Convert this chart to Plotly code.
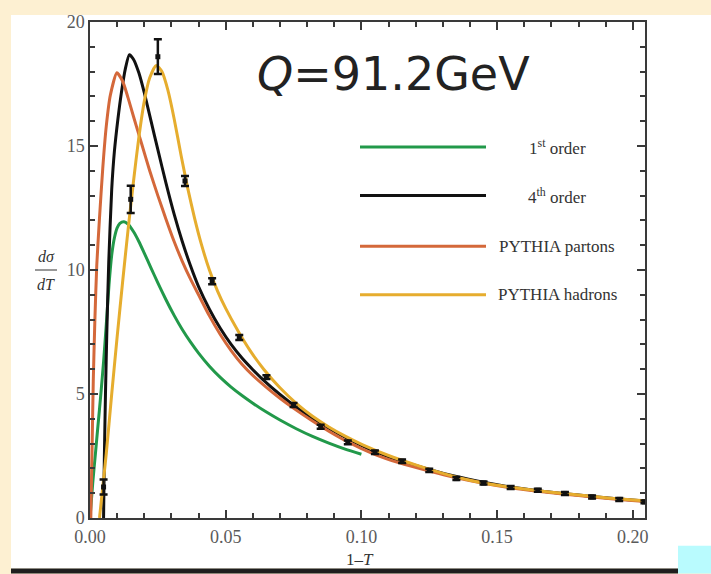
import plotly.graph_objects as go

# ---------------- data ----------------
x_first = [0, 0.001, 0.002, 0.003, 0.004, 0.005, 0.006, 0.007, 0.008, 0.009, 0.010, 0.011, 0.0125,
           0.014, 0.016, 0.018, 0.020, 0.0225, 0.025, 0.028, 0.031, 0.034, 0.037, 0.040, 0.044,
           0.048, 0.052, 0.056, 0.060, 0.065, 0.070, 0.076, 0.082, 0.088, 0.094, 0.100]
y_first = [0, 1.4, 2.6, 3.8, 5.0, 6.3, 7.8, 9.4, 10.6, 11.3, 11.7, 11.88, 11.95,
           11.85, 11.55, 11.15, 10.68, 10.08, 9.48, 8.8, 8.17, 7.6, 7.1, 6.65, 6.12,
           5.67, 5.28, 4.94, 4.63, 4.27, 3.95, 3.6, 3.29, 3.02, 2.78, 2.57]

x_fourth = [0.0050, 0.0053, 0.0057, 0.0062, 0.0069, 0.008, 0.009, 0.0103, 0.0115, 0.013, 0.0145,
            0.016, 0.018, 0.020, 0.0225, 0.025, 0.028, 0.031, 0.034, 0.037, 0.040, 0.044, 0.048,
            0.052, 0.056, 0.060, 0.0637, 0.070, 0.076, 0.082, 0.088, 0.095, 0.1042, 0.114, 0.125,
            0.135, 0.145, 0.155, 0.165, 0.175, 0.185, 0.195, 0.2045]
y_fourth = [0, 2.5, 5.0, 7.5, 10.3, 13.25, 14.8, 16.1, 17.1, 18.1, 18.68,
            18.5, 17.95, 17.15, 16.0, 14.85, 13.5, 12.25, 11.15, 10.18, 9.33, 8.42, 7.65,
            7.0, 6.45, 5.98, 5.58, 4.98, 4.47, 4.02, 3.62, 3.2, 2.72, 2.32, 1.96,
            1.67, 1.44, 1.25, 1.1, 0.98, 0.87, 0.77, 0.69]

x_partons = [0.0003, 0.0008, 0.0012, 0.0018, 0.0025, 0.0035, 0.0047, 0.006, 0.0075, 0.0099, 0.012,
             0.014, 0.016, 0.019, 0.022, 0.025, 0.028, 0.031, 0.034, 0.037, 0.040, 0.044, 0.048,
             0.052, 0.056, 0.060, 0.065, 0.070, 0.076, 0.082, 0.088, 0.095, 0.1042, 0.114, 0.125,
             0.135, 0.145, 0.155, 0.165, 0.175, 0.185, 0.195, 0.2045]
y_partons = [0, 3.0, 5.5, 8.0, 10.2, 12.1, 14.1, 15.8, 17.05, 17.95, 17.62,
             16.95, 16.2, 15.1, 14.0, 13.0, 12.05, 11.15, 10.35, 9.64, 9.0, 8.15, 7.4,
             6.75, 6.2, 5.75, 5.27, 4.83, 4.35, 3.91, 3.5, 3.07, 2.6, 2.22, 1.89,
             1.62, 1.4, 1.22, 1.08, 0.96, 0.85, 0.75, 0.67]

x_hadrons = [0.0035, 0.006, 0.008, 0.010, 0.012, 0.014, 0.016, 0.018, 0.020, 0.022, 0.0244, 0.0265,
             0.0287, 0.031, 0.0336, 0.036, 0.0385, 0.041, 0.044, 0.047, 0.050, 0.0545, 0.059, 0.064,
             0.070, 0.076, 0.082, 0.088, 0.094, 0.1005, 0.11, 0.12, 0.13, 0.14, 0.15, 0.16,
             0.17, 0.18, 0.19, 0.2045]
y_hadrons = [0, 2.6, 5.0, 7.3, 9.5, 11.6, 13.55, 15.35, 16.8, 17.75, 18.25, 18.0,
             17.25, 16.1, 14.6, 13.3, 12.1, 11.05, 10.0, 9.15, 8.45, 7.55, 6.75, 6.0,
             5.25, 4.62, 4.1, 3.67, 3.3, 2.95, 2.52, 2.14, 1.8, 1.52, 1.32, 1.17,
             1.04, 0.93, 0.82, 0.7]

x_data = [0.005, 0.015, 0.025, 0.035, 0.045, 0.055, 0.065, 0.075, 0.085, 0.095, 0.105, 0.115,
          0.125, 0.135, 0.145, 0.155, 0.165, 0.175, 0.185, 0.195, 0.2043]
y_data = [1.25, 12.85, 18.6, 13.59, 9.55, 7.28, 5.68, 4.56, 3.68, 3.05, 2.65, 2.29,
          1.92, 1.59, 1.41, 1.23, 1.12, 0.99, 0.85, 0.75, 0.65]
err_data = [0.3, 0.55, 0.7, 0.2, 0.12, 0.1, 0.08, 0.08, 0.08, 0.08, 0.07, 0.07,
            0.07, 0.06, 0.06, 0.06, 0.06, 0.06, 0.06, 0.06, 0.06]

series_names = ["1<sup>st</sup> order", "4<sup>th</sup> order", "PYTHIA partons", "PYTHIA hadrons"]
series_colors = ["#22994a", "#111111", "#d4683a", "#e6ad2e"]

x_ticks = [0.00, 0.05, 0.10, 0.15, 0.20]
x_tick_labels = ["0.00", "0.05", "0.10", "0.15", "0.20"]
y_ticks = [0, 5, 10, 15, 20]

# ---------------- layout helpers ----------------
W, H = 711, 574
ML, MR, MT, MB = 90, 66, 18, 56
PW, PH = W - ML - MR, H - MT - MB


def px(xp):
    return (xp - ML) / PW


def py(yp):
    return (H - MB - yp) / PH


fig = go.Figure()

curves = [(x_first, y_first), (x_fourth, y_fourth), (x_partons, y_partons), (x_hadrons, y_hadrons)]
for (xs, ys), name, col in zip(curves, series_names, series_colors):
    fig.add_trace(go.Scatter(x=xs, y=ys, mode="lines", name=name,
                             line=dict(color=col, width=3, shape="spline", smoothing=0.6),
                             showlegend=False, cliponaxis=True))

fig.add_trace(go.Scatter(x=x_data, y=y_data, mode="markers", name="data", showlegend=False,
                         marker=dict(symbol="square", size=5, color="#111111"),
                         error_y=dict(type="data", array=err_data, color="#111111",
                                      thickness=2.5, width=4),
                         cliponaxis=False))

shapes = [
    dict(type="rect", xref="paper", yref="paper", x0=px(11), x1=px(711), y0=py(569), y1=py(11),
         fillcolor="white", line=dict(width=0), layer="below"),
    dict(type="rect", xref="paper", yref="paper", x0=px(11), x1=px(678), y0=py(574), y1=py(569),
         fillcolor="#1e1e1e", line=dict(width=0), layer="above"),
    dict(type="rect", xref="paper", yref="paper", x0=px(678), x1=px(711), y0=py(574), y1=py(546),
         fillcolor="#b9fbfe", line=dict(width=0), layer="above"),
]

annotations = []
legend_y = [144, 193, 244, 293]
for name, col, ly in zip(series_names, series_colors, legend_y):
    shapes.append(dict(type="line", xref="paper", yref="paper", x0=px(360), x1=px(486),
                       y0=py(ly), y1=py(ly), line=dict(color=col, width=3)))
    annotations.append(dict(xref="paper", yref="paper", x=px(557), y=py(ly), text=name,
                            showarrow=False, xanchor="center", yanchor="middle",
                            font=dict(family="Liberation Serif", size=17, color="#333333")))

annotations.append(dict(xref="paper", yref="paper", x=px(393), y=py(70),
                        text="<i>Q</i>=91.2GeV", showarrow=False, xanchor="center",
                        yanchor="middle",
                        font=dict(family="DejaVu Sans", size=46, color="#222222")))
# y axis title as a fraction
annotations.append(dict(xref="paper", yref="paper", x=px(46), y=py(254), text="<i>dσ</i>",
                        showarrow=False, xanchor="center", yanchor="middle",
                        font=dict(family="Liberation Serif", size=16, color="#333333")))
annotations.append(dict(xref="paper", yref="paper", x=px(46), y=py(283), text="<i>dT</i>",
                        showarrow=False, xanchor="center", yanchor="middle",
                        font=dict(family="Liberation Serif", size=16, color="#333333")))
shapes.append(dict(type="line", xref="paper", yref="paper", x0=px(35), x1=px(57),
                   y0=py(268), y1=py(268), line=dict(color="#333333", width=1)))
# x axis title
annotations.append(dict(xref="paper", yref="paper", x=px(360), y=py(571), text="1–<i>T</i>",
                        showarrow=False, xanchor="center", yanchor="bottom",
                        font=dict(family="Liberation Serif", size=17, color="#333333")))

axis_common = dict(showgrid=False, zeroline=False, showline=True, linecolor="#3a3a3a",
                   linewidth=1.5, mirror="allticks", ticks="inside", ticklen=8,
                   tickwidth=1.5, tickcolor="#3a3a3a",
                   tickfont=dict(family="Liberation Serif", size=18, color="#5a5a5a"))

fig.update_layout(
    width=W, height=H,
    margin=dict(l=ML, r=MR, t=MT, b=MB),
    paper_bgcolor="#fdf0d2",
    plot_bgcolor="white",
    shapes=shapes,
    annotations=annotations,
    xaxis=dict(range=[0, 0.2045], tickvals=x_ticks, ticktext=x_tick_labels,
               ticklabelstandoff=2,
               minor=dict(ticks="inside", ticklen=5, tickwidth=1.5, tickcolor="#3a3a3a",
                          dtick=0.01, tick0=0),
               **axis_common),
    yaxis=dict(range=[0, 20], tickvals=y_ticks,
               minor=dict(ticks="inside", ticklen=5, tickwidth=1.5, tickcolor="#3a3a3a",
                          dtick=1, tick0=0),
               **axis_common),
)

fig.write_html("out.html", config={"displayModeBar": False},
               post_script="document.body.style.margin='0px';")
